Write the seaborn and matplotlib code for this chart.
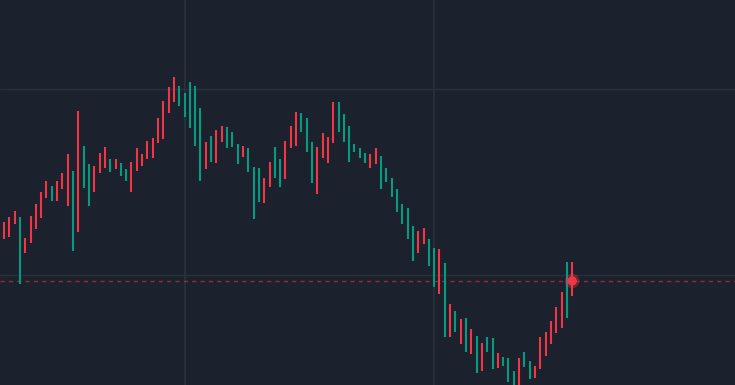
'''
High-low price bars on a dark chart, with the last price marked.
'''

import pandas as pd
import matplotlib
matplotlib.use("Agg")
import matplotlib.pyplot as plt
import seaborn as sns

#######################################################
### Data

highs = [
    178, 183, 189, 183, 162, 184, 196, 208, 219, 214,
    219, 227, 246, 229, 289, 254, 236, 234, 247, 253,
    241, 241, 237, 231, 238, 252, 246, 259, 262, 282,
    299, 313, 323, 314, 307, 318, 314, 292, 258, 264,
    270, 274, 273, 268, 256, 254, 252, 233, 232, 222,
    238, 253, 241, 259, 274, 288, 287, 282, 258, 253,
    267, 263, 298, 298, 286, 274, 256, 252, 247, 246,
    252, 244, 232, 222, 211, 196, 192, 174, 169, 172,
    161, 152, 151, 137, 96, 89, 81, 82, 71, 64,
    57, 63, 62, 47, 43, 42, 29, 42, 48, 39,
    34, 63, 68, 79, 93, 108, 138, 138,
]

lows = [
    161, 163, 176, 116, 147, 157, 171, 182, 202, 199,
    199, 211, 194, 149, 168, 212, 194, 208, 227, 232,
    228, 231, 224, 219, 208, 229, 234, 241, 242, 257,
    261, 287, 298, 294, 283, 272, 254, 219, 231, 238,
    237, 258, 252, 253, 236, 243, 228, 181, 198, 197,
    213, 222, 213, 221, 252, 254, 268, 248, 217, 206,
    242, 237, 257, 268, 258, 238, 248, 242, 237, 232,
    236, 211, 218, 203, 188, 176, 161, 139, 147, 156,
    134, 113, 106, 63, 63, 68, 56, 48, 46, 27,
    29, 48, 31, 32, 34, 18, 12, 14, 33, 21,
    22, 31, 44, 56, 67, 72, 82, 104,
]

# 1 = rising bar (red), -1 = falling bar (green)
direction = [
    1, 1, 1, -1, 1, 1, 1, 1, 1, -1,
    1, 1, 1, -1, 1, -1, -1, 1, 1, 1,
    -1, 1, -1, -1, 1, 1, 1, 1, 1, 1,
    1, 1, 1, -1, -1, -1, -1, -1, 1, -1,
    1, 1, -1, -1, -1, 1, -1, -1, -1, 1,
    1, -1, -1, 1, 1, 1, -1, -1, -1, 1,
    1, 1, 1, -1, -1, -1, -1, -1, -1, 1,
    1, -1, -1, -1, -1, -1, -1, -1, 1, 1,
    -1, -1, 1, -1, 1, -1, 1, -1, 1, -1,
    1, -1, -1, 1, -1, -1, -1, 1, -1, -1,
    1, 1, 1, 1, 1, 1, -1, 1,
]

last_price = 119
grid_bars = [34, 81]
grid_prices = [125, 311]

#######################################################
### Style

BG = "#1b212d"
GRID = "#29313d"
UP = "#f23645"
DOWN = "#089981"

#######################################################
### Plot

def plot_bars():

    df = pd.DataFrame({
        "bar": range(len(highs)),
        "high": highs,
        "low": lows,
        "direction": direction,
    })

    df["color"] = df["direction"].map({1: UP, -1: DOWN})

    sns.set_theme(style="dark", rc={
        "axes.facecolor": BG,
        "figure.facecolor": BG,
    })

    fig = plt.figure(figsize=(7.35, 3.85), dpi=100)

    ax = fig.add_axes([0, 0, 1, 1])

    ax.set_facecolor(BG)

    # grid lines
    for b in grid_bars:
        ax.axvline(b, color=GRID, linewidth=1.3, zorder=0)

    for p in grid_prices:
        ax.axhline(p, color=GRID, linewidth=1.0, zorder=0)

    # high-low bars
    ax.vlines(
        df["bar"],
        df["low"],
        df["high"],
        colors=df["color"],
        linewidth=1.5,
        zorder=2
    )

    # last price line and marker
    ax.axhline(
        last_price,
        color=UP,
        alpha=0.55,
        linewidth=1.0,
        dashes=(3, 3),
        zorder=1
    )

    last = df.tail(1).assign(price=last_price)

    sns.scatterplot(
        data=last,
        x="bar",
        y="price",
        s=110,
        color=UP,
        alpha=0.35,
        edgecolor="none",
        ax=ax,
        zorder=3,
        legend=False
    )

    sns.scatterplot(
        data=last,
        x="bar",
        y="price",
        s=45,
        color=UP,
        edgecolor="none",
        ax=ax,
        zorder=4,
        legend=False
    )

    ax.set_xlim(-0.753, 137.66)
    ax.set_ylim(15, 400)

    ax.set_xticks([])
    ax.set_yticks([])
    ax.set_xlabel("")
    ax.set_ylabel("")

    for spine in ax.spines.values():
        spine.set_visible(False)

    fig.savefig("out.png", dpi=100, facecolor=BG)


if __name__ == "__main__":

    plot_bars()
